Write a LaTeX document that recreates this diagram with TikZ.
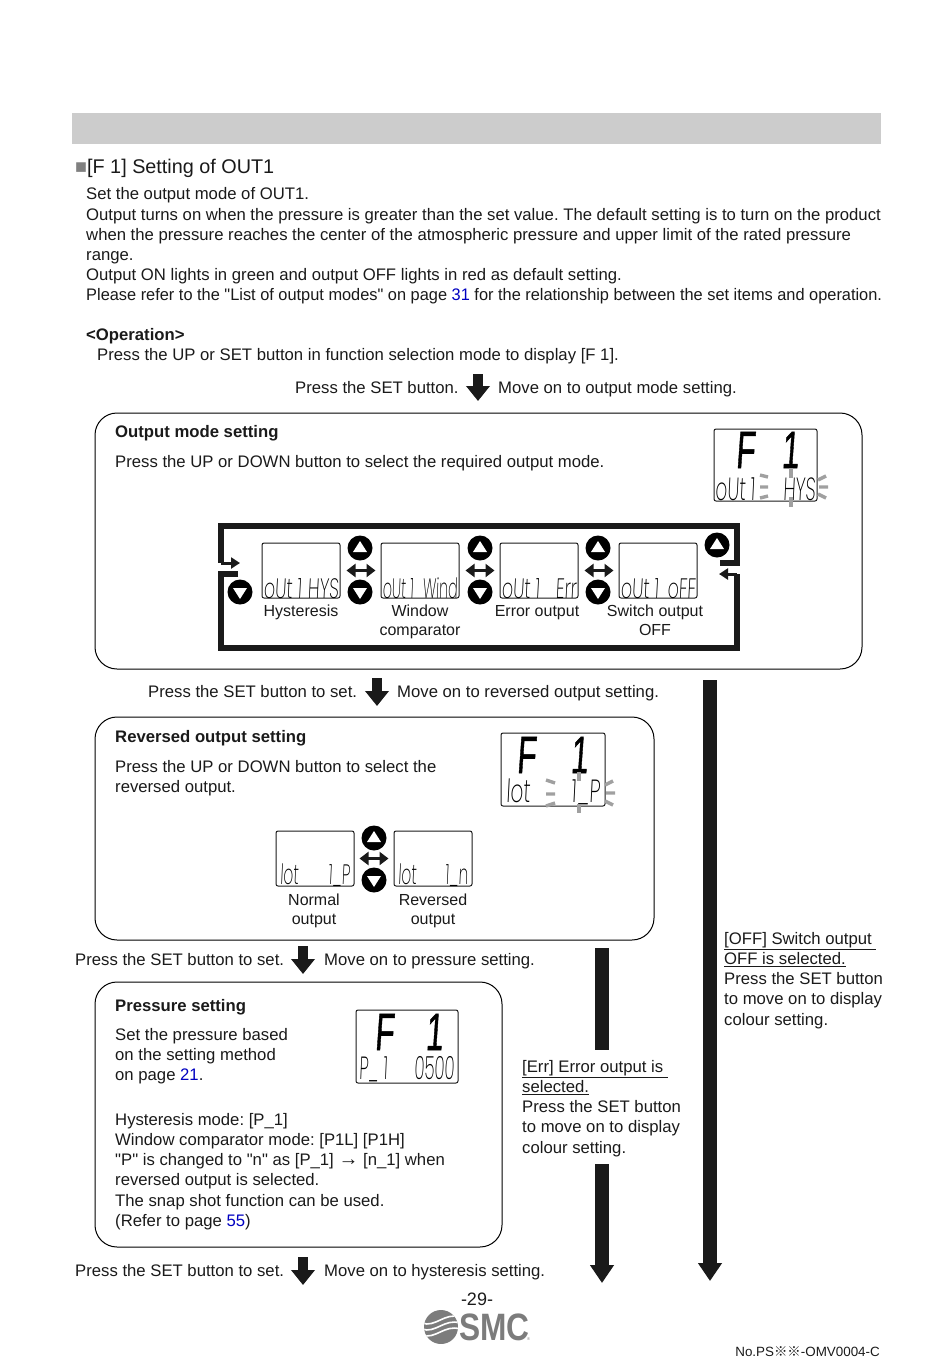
\documentclass[tikz,border=0pt]{standalone}
\usepackage{fontspec}
\usepackage{xcolor}
\setmainfont{Liberation Sans}
\newfontfamily\swplainfont{Liberation Sans}
\newfontfamily\lcdfont[FakeSlant=0.08]{Poppins ExtraLight}
\newfontfamily\lcdbigfont[FakeSlant=0.12,FakeBold=1.2]{Liberation Sans}
\newfontfamily\refmarkfont{Noto Sans CJK JP}
\usetikzlibrary{arrows.meta,positioning,calc}
\definecolor{swband}{HTML}{CCCCCC}
\definecolor{swlink}{HTML}{0000C0}
\definecolor{swink}{HTML}{1A1A1A}
\definecolor{swflash}{HTML}{A0A0A0}
\definecolor{swlogo}{HTML}{7C7C7C}
\frenchspacing
\newcommand{\swsize}{\fontsize{16.7}{20.2}\selectfont}
\newcommand{\swlcd}[4][1.25]{\makebox[#2pt]{\scalebox{#1}[2.0]{\lcdfont #3}\hfill\scalebox{#1}[2.0]{\lcdfont #4}}}
\newcommand{\swlink}[1]{\textcolor{swlink}{#1}}
\newcommand{\swquote}{{\swplainfont"}}
\tikzset{
  swtxt/.style={anchor=base west, inner sep=0pt, text=swink, font=\swsize},
  swpara/.style={anchor=north west, inner sep=0pt, align=left, text=swink, font=\swsize},
  swcap/.style={inner sep=0pt, align=center, text=swink, font=\fontsize{16}{18.8}\selectfont},
  swbox/.style={draw=black, rounded corners=22pt, line width=1pt},
  swlcd/.style={draw=swink, rounded corners=2pt, line width=1pt, inner sep=0pt},
  swlcdtxt/.style={inner sep=0pt, text=black, font=\fontsize{14}{16}\selectfont},
  swlcdbig/.style={inner sep=0pt, text=black, font=\fontsize{16}{18}\selectfont},
  swbigtxt/.style={inner sep=0pt, text=black, font=\fontsize{24}{24}\lcdbigfont},
  swflick/.style={draw=swflash, line width=3.4pt},
  swring/.style={draw=swink, line width=6pt},
  swringarrow/.style={-{Triangle[length=9pt,width=11pt]}, draw=swink, line width=3pt},
  swdouble/.style={{Triangle[length=9pt,width=13pt]}-{Triangle[length=9pt,width=13pt]}, draw=swink, line width=3pt},
  swstep/.style={-{Triangle[length=15pt,width=23pt]}, draw=swink, line width=10pt},
  swbranch/.style={-{Triangle[length=18pt,width=23pt]}, draw=swink, line width=14pt},
  swstem/.style={draw=swink, line width=14pt},
  swup/.style={circle, fill=black, minimum size=25pt, inner sep=0pt, path picture={
    \fill[white] ($(path picture bounding box.center)+(-7pt,-4pt)$) -- ++(14pt,0pt) -- ++(-7pt,11pt) -- cycle;}},
  swdown/.style={circle, fill=black, minimum size=25pt, inner sep=0pt, path picture={
    \fill[white] ($(path picture bounding box.center)+(-7pt,4pt)$) -- ++(14pt,0pt) -- ++(-7pt,-11pt) -- cycle;}},
}
\begin{document}
\begin{tikzpicture}[x=1pt, y=-1pt]
  \useasboundingbox (0,0) rectangle (950,1360);
  \fill[swband] (72,113) rectangle (881,144);

  \node[swtxt, font=\fontsize{19.8}{22}\selectfont] (title) at (75,173) {\textcolor{gray}{■}[F 1] Setting of OUT1};
  \node[swpara] (intro) at (86,187.5) {Set the output mode of OUT1.\\
    Output turns on when the pressure is greater than the set value. The default setting is to turn on the product\\
    when the pressure reaches the center of the atmospheric pressure and upper limit of the rated pressure\\
    range.\\
    Output ON lights in green and output OFF lights in red as default setting.\\
    \scalebox{0.98}[1]{Please refer to the \swquote List of output modes\swquote\ on page \swlink{31} for the relationship between the set items and operation.}};
  \node[swtxt] (oper) at (86,340) {\textbf{<Operation>}};
  \node[swtxt] (operline) at (97,360) {Press the UP or SET button in function selection mode to display [F 1].};

  \node[swtxt] (setA) at (295,393) {Press the SET button.};
  \node[swtxt] (moveA) at (498,393) {Move on to output mode setting.};
  \coordinate (stepAa) at (478,374);
  \coordinate (stepAb) at (478,401);
  \draw[swstep] (stepAa) -- (stepAb);

  % output mode
  \draw[swbox] (95,413) rectangle (862,669);
  \node[swtxt] (modehead) at (115,437) {\textbf{Output mode setting}};
  \node[swtxt] (modetext) at (115,467) {Press the UP or DOWN button to select the required output mode.};
  \node[swlcd, minimum width=103pt, minimum height=72pt] (modelcd) at (765.5,465) {};
  \node[swbigtxt] (modeF) at (745,450) {\scalebox{1.3}[2.2]{F}};
  \node[swbigtxt] (modeI) at (790,450) {\scalebox{1.3}[2.2]{1}};
  \node[swlcdbig, above=1pt of modelcd.south] (modeval) {\swlcd[1.15]{100}{oUt 1}{HYS}};
  \draw[swflick] (760,475) -- (768,477) (760,487) -- (768,487) (760,498) -- (768,496);
  \draw[swflick] (791,468) -- (791,478) (791,497) -- (791,507);
  \draw[swflick] (818,480) -- (826,476) (819,487) -- (828,487) (818,494) -- (826,498);

  \draw[swring] (720,563) -- (737,563) -- (737,526) -- (221,526) -- (221,563);
  \draw[swring] (238,574) -- (221,574) -- (221,648) -- (737,648) -- (737,574);
  \draw[swringarrow] (221,563) -- (240,563);
  \draw[swringarrow] (737,574) -- (719,574);

  \node[swlcd, minimum width=78pt, minimum height=55pt] (hys) at (301,570.5) {};
  \node[swlcd, minimum width=78pt, minimum height=55pt] (wind) at (420,570.5) {};
  \node[swlcd, minimum width=78pt, minimum height=55pt] (err) at (539,570.5) {};
  \node[swlcd, minimum width=78pt, minimum height=55pt] (off) at (658,570.5) {};
  \node[swlcdtxt, above=0pt of hys.south] (hysval) {\swlcd{75}{oUt 1}{HYS}};
  \node[swlcdtxt, above=0pt of wind.south] (windval) {\swlcd[1.02]{75}{oUt 1}{Wind}};
  \node[swlcdtxt, above=0pt of err.south] (errval) {\swlcd{75}{oUt 1}{Err}};
  \node[swlcdtxt, above=0pt of off.south] (offval) {\swlcd{75}{oUt 1}{oFF}};
  \node[swcap, anchor=north] (hyscap) at (301,605) {Hysteresis};
  \node[swcap, anchor=north] (windcap) at (420,605) {Window\\comparator};
  \node[swcap, anchor=north] (errcap) at (537,605) {Error output};
  \node[swcap, anchor=north] (offcap) at (655,605) {Switch output\\OFF};

  \node[swdown] (downA) at (240,592) {};
  \node[swup] (upA) at (360,548) {};
  \node[swdown] (downB) at (360,592) {};
  \node[swup] (upB) at (480,548) {};
  \node[swdown] (downC) at (480,592) {};
  \node[swup] (upC) at (598,548) {};
  \node[swdown] (downD) at (598,592) {};
  \node[swup] (upD) at (717,545) {};
  \draw[swdouble] ($(hys.east)+(6,0)$) -- ($(wind.west)+(-5,0)$);
  \draw[swdouble] ($(wind.east)+(6,0)$) -- ($(err.west)+(-5,0)$);
  \draw[swdouble] ($(err.east)+(6,0)$) -- ($(off.west)+(-5,0)$);

  \node[swtxt] (setB) at (148,697) {Press the SET button to set.};
  \node[swtxt] (moveB) at (397,697) {Move on to reversed output setting.};
  \coordinate (stepBa) at (377,678);
  \coordinate (stepBb) at (377,706);
  \draw[swstep] (stepBa) -- (stepBb);

  % reversed output
  \draw[swbox] (95,717) rectangle (654,940);
  \node[swtxt] (revhead) at (115,742) {\textbf{Reversed output setting}};
  \node[swpara] (revtext) at (115,760) {Press the UP or DOWN button to select the\\reversed output.};
  \node[swlcd, minimum width=104pt, minimum height=73pt] (revlcd) at (553,769.5) {};
  \node[swbigtxt] (revF) at (526,755) {\scalebox{1.3}[2.2]{F}};
  \node[swbigtxt] (revI) at (579,755) {\scalebox{1.3}[2.2]{1}};
  \node[swlcdbig, above=1pt of revlcd.south] (revval) {\swlcd{94}{lot}{1\_P}};
  \draw[swflick] (546,780) -- (555,783) (546,794) -- (555,794) (546,806) -- (555,803);
  \draw[swflick] (579,772) -- (579,781) (579,804) -- (579,813);
  \draw[swflick] (605,785) -- (613,781) (606,793) -- (615,793) (605,801) -- (613,805);

  \node[swlcd, minimum width=78pt, minimum height=55pt] (norm) at (315,858.5) {};
  \node[swlcd, minimum width=78pt, minimum height=55pt] (rev) at (433,858.5) {};
  \node[swlcdtxt, above=0pt of norm.south] (normval) {\swlcd[1.1]{70}{lot}{1\_P}};
  \node[swlcdtxt, above=0pt of rev.south] (revsval) {\swlcd[1.1]{70}{lot}{1\_n}};
  \node[swcap, anchor=north] (normcap) at (314,894) {Normal\\output};
  \node[swcap, anchor=north] (revcap) at (433,894) {Reversed\\output};
  \node[swup] (upE) at (374,838) {};
  \node[swdown] (downE) at (374,880) {};
  \draw[swdouble] ($(norm.east)+(5,0)$) -- ($(rev.west)+(-5,0)$);

  \node[swtxt] (setC) at (75,965) {Press the SET button to set.};
  \node[swtxt] (moveC) at (324,965) {Move on to pressure setting.};
  \coordinate (stepCa) at (303,946);
  \coordinate (stepCb) at (303,974);
  \draw[swstep] (stepCa) -- (stepCb);

  % pressure
  \draw[swbox] (95,982) rectangle (502,1247);
  \node[swtxt] (preshead) at (115,1011) {\textbf{Pressure setting}};
  \node[swpara] (prestext) at (115,1028) {Set the pressure based\\on the setting method\\on page \swlink{21}.};
  \node[swlcd, minimum width=102pt, minimum height=73pt] (preslcd) at (407,1046.5) {};
  \node[swbigtxt] (presF) at (384,1032) {\scalebox{1.3}[2.2]{F}};
  \node[swbigtxt] (presI) at (434,1032) {\scalebox{1.3}[2.2]{1}};
  \node[swlcdbig, above=1pt of preslcd.south] (presval) {\swlcd[1.05]{96}{P\_ 1}{0500}};
  \node[swpara] (presnote) at (115,1113) {Hysteresis mode: [P\_1]\\
    Window comparator mode: [P1L] [P1H]\\
    \swquote P\swquote\ is changed to \swquote n\swquote\ as [P\_1] {\fontsize{20}{20}\selectfont →} [n\_1] when\\
    reversed output is selected.\\
    The snap shot function can be used.\\
    (Refer to page \swlink{55})};

  \node[swtxt] (setD) at (75,1276) {Press the SET button to set.};
  \node[swtxt] (moveD) at (324,1276) {Move on to hysteresis setting.};
  \coordinate (stepDa) at (303,1257);
  \coordinate (stepDb) at (303,1285);
  \draw[swstep] (stepDa) -- (stepDb);

  % branches
  \coordinate (errtop) at (602,948);
  \coordinate (errmid) at (602,1050);
  \coordinate (errlow) at (602,1164);
  \coordinate (errend) at (602,1283);
  \draw[swstem] (errtop) -- (errmid);
  \draw[swbranch] (errlow) -- (errend);
  \node[swpara] (errnote) at (522,1060) {\underline{[Err] Error output is\ }\\\underline{selected.}\\Press the SET button\\to move on to display\\colour setting.};
  \coordinate (offtop) at (710,680);
  \coordinate (offend) at (710,1281);
  \draw[swbranch] (offtop) -- (offend);
  \node[swpara] (offnote) at (724,932) {\underline{[OFF] Switch output\ }\\\underline{OFF is selected.}\\Press the SET button\\to move on to display\\colour setting.};

  % footer
  \node[swcap, font=\fontsize{18}{18}\selectfont] (pageno) at (477,1299) {-29-};
  \begin{scope}
    \clip (441,1327) circle (17);
    \fill[swlogo] (424,1310) rectangle (458,1344);
    \draw[white, line width=1.6pt] (422,1323) .. controls (435,1328) and (445,1312) .. (460,1317);
    \draw[white, line width=1.6pt] (422,1329) .. controls (435,1334) and (445,1318) .. (460,1323);
    \draw[white, line width=1.6pt] (422,1335) .. controls (435,1340) and (445,1324) .. (460,1329);
  \end{scope}
  \node[inner sep=0pt, anchor=west, text=swlogo, font=\fontsize{36}{36}\selectfont\bfseries] (smc) at (459,1327) {\scalebox{0.88}[1.06]{SMC}};
  \node[inner sep=0pt, anchor=west, text=gray, font=\fontsize{4}{4}\selectfont] (smcreg) at (527,1339) {®};
  \node[inner sep=0pt, anchor=east, text=swink, font=\fontsize{13.4}{14}\selectfont] (docno) at (880,1352) {No.PS{\refmarkfont ※※}-OMV0004-C};
\end{tikzpicture}
\end{document}
